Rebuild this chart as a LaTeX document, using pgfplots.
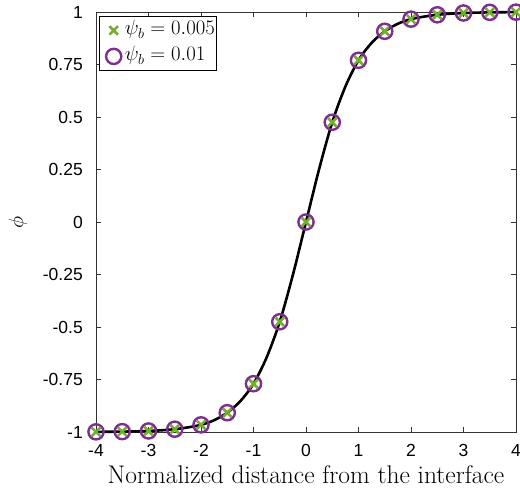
\documentclass[border=0pt]{standalone}
\usepackage{fontspec}
\newfontfamily\arial{Liberation Sans}
\usepackage{pgfplots}
\pgfplotsset{compat=1.18}
\definecolor{mgreen}{rgb}{0.466,0.674,0.188}
\definecolor{mpurple}{rgb}{0.494,0.184,0.556}
\begin{document}
\begin{tikzpicture}
\begin{axis}[
  name=ax,
  scale only axis, width=420pt, height=420pt,
  xmin=-4, xmax=4, ymin=-1, ymax=1,
  xtick={-4,-3,-2,-1,0,1,2,3,4},
  xticklabels={-4,-3,-2,-1,0,1,2,3,4},
  ytick={-1,-0.75,-0.5,-0.25,0,0.25,0.5,0.75,1},
  yticklabels={-1,-0.75,-0.5,-0.25,0,0.25,0.5,0.75,1},
  tick align=inside, major tick length=5pt,
  ticklabel style={font=\arial\fontsize{17.5}{21}\selectfont},
  xticklabel style={inner sep=0pt, yshift=-12pt},
  yticklabel style={inner sep=0pt, xshift=-13pt},
  axis line style={line width=0.8pt, draw=black!80},
  every tick/.style={line width=0.8pt, black!80},
  xlabel={Normalized distance from the interface},
  ylabel={$\phi$},
  xlabel style={font=\fontsize{25.5}{29}\selectfont, at={(axis description cs:0.5,0)}, anchor=base, yshift=-51pt},
  ylabel style={font=\fontsize{20}{24}\selectfont, at={(axis description cs:0,0.5)}, anchor=center, yshift=78pt},
  legend style={at={(rel axis cs:0,1)}, anchor=north west, xshift=3pt, yshift=-4pt,
    font=\fontsize{21}{25}\selectfont, draw=black, line width=0.8pt,
    inner xsep=0pt, inner ysep=1pt, row sep=0pt, cells={anchor=west},
    nodes={inner xsep=2pt, inner ysep=2.5pt, text height=15pt, text depth=6pt}},
  legend image code/.code={\path (0pt,-9pt) (21pt,9pt); \draw[#1] plot coordinates {(13pt,0pt)};},
  clip=false,
]
\addplot[black, line width=2.6pt, smooth, forget plot] coordinates {
(-4,-0.9993) (-3.75,-0.9989) (-3.5,-0.9982) (-3.25,-0.997) (-3,-0.9951)
(-2.75,-0.9919) (-2.5,-0.9866) (-2.25,-0.978) (-2,-0.966) (-1.75,-0.944)
(-1.5,-0.908) (-1.25,-0.853) (-1,-0.77) (-0.75,-0.645) (-0.5,-0.475)
(-0.25,-0.252) (0,0) (0.25,0.252) (0.5,0.475) (0.75,0.645) (1,0.77)
(1.25,0.853) (1.5,0.908) (1.75,0.944) (2,0.966) (2.25,0.978) (2.5,0.9866)
(2.75,0.9919) (3,0.9951) (3.25,0.997) (3.5,0.9982) (3.75,0.9989) (4,0.9993)
};
\addplot[only marks, mark=x, mark size=6pt, mgreen, line width=2.6pt] coordinates {
(-4,-0.9993) (-3.5,-0.9982) (-3,-0.9951) (-2.5,-0.9866) (-2,-0.966)
(-1.5,-0.908) (-1,-0.77) (-0.5,-0.475) (0,0) (0.5,0.475) (1,0.77)
(1.5,0.908) (2,0.966) (2.5,0.9866) (3,0.9951) (3.5,0.9982) (4,0.9993)
};
\addlegendentry{$\psi_b = 0.005$}
\addplot[only marks, mark=o, mark size=7.6pt, mpurple, line width=2.4pt] coordinates {
(-4,-0.9993) (-3.5,-0.9982) (-3,-0.9951) (-2.5,-0.9866) (-2,-0.966)
(-1.5,-0.908) (-1,-0.77) (-0.5,-0.475) (0,0) (0.5,0.475) (1,0.77)
(1.5,0.908) (2,0.966) (2.5,0.9866) (3,0.9951) (3.5,0.9982) (4,0.9993)
};
\addlegendentry{$\psi_b = 0.01$}
\end{axis}
\pgfresetboundingbox
\path[use as bounding box] ([xshift=-96pt,yshift=-59pt]ax.south west) rectangle ([xshift=4pt,yshift=12pt]ax.north east);
\end{tikzpicture}
\end{document}
